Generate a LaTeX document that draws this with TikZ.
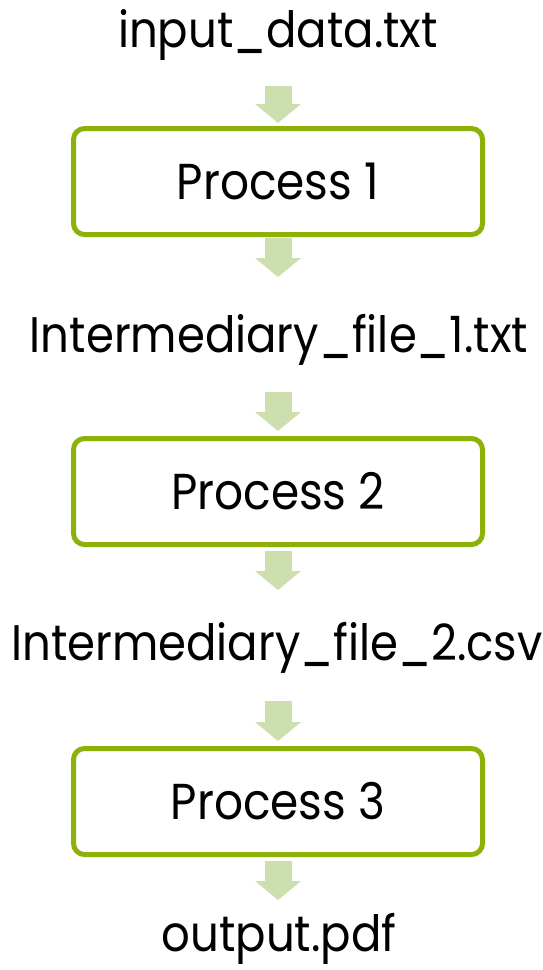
\documentclass[tikz,border=0pt]{standalone}
\usepackage{fontspec}
\setmainfont{Poppins}[FakeStretch=0.9]
\usetikzlibrary{arrows.meta}
\definecolor{boxgreen}{RGB}{140,178,10}
\definecolor{arrowgreen}{RGB}{205,222,175}
\begin{document}
\begin{tikzpicture}[x=1pt,y=-1pt,
  label/.style={anchor=base,inner sep=0pt,font=\fontsize{50}{60}\selectfont},
  procbox/.style={draw=boxgreen,line width=5pt,rounded corners=11pt,minimum width=409pt,minimum height=106pt,inner sep=0pt,font=\fontsize{50.5}{60}\selectfont,fill=white},
  blockarrow/.style={draw=arrowgreen,line width=27pt,line cap=butt,-{Triangle[width=45pt,length=19pt]}}]
\useasboundingbox (0,0) rectangle (542,970);
\node[label] (in) at (278,47) {input\_data.txt};
\node[procbox] (p1) at (278,181.5) {Process 1};
\node[label] (f1) at (279,352) {Intermediary\_file\_1.txt};
\node[procbox] (p2) at (278,491.5) {Process 2};
\node[label] (f2) at (277,660) {Intermediary\_file\_2.csv};
\node[procbox] (p3) at (278,801.5) {Process 3};
\node[label] (out) at (279,951) {output.pdf};
\coordinate (a1t) at (278,86);  \coordinate (a1b) at (278,123);
\coordinate (a2t) at (278,238); \coordinate (a2b) at (278,277);
\coordinate (a3t) at (278,392); \coordinate (a3b) at (278,431);
\coordinate (a4t) at (278,551); \coordinate (a4b) at (278,590);
\coordinate (a5t) at (278,701); \coordinate (a5b) at (278,741);
\coordinate (a6t) at (278,861); \coordinate (a6b) at (278,900);
\foreach \i in {1,...,6} {\draw[blockarrow] (a\i t) -- (a\i b);}
\end{tikzpicture}
\end{document}
